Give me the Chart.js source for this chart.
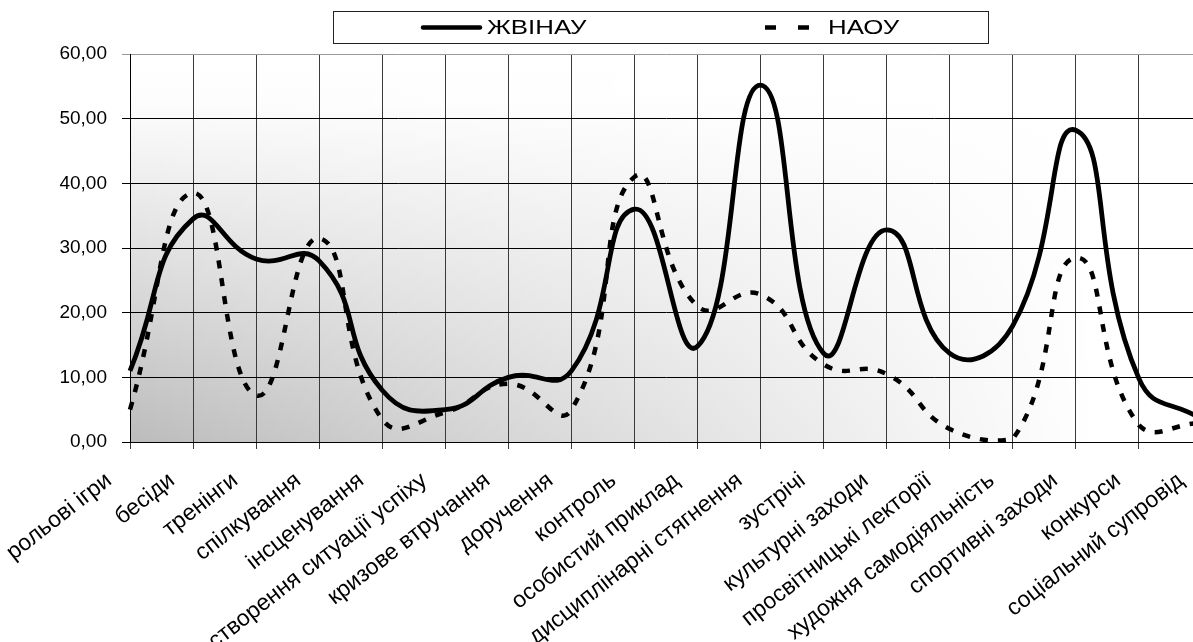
<!DOCTYPE html>
<html>
<head>
<meta charset="utf-8">
<script src="https://cdn.jsdelivr.net/npm/chart.js@4.4.1/dist/chart.umd.min.js"></script>
<style>
    html, body { margin: 0; padding: 0; background: #fff; overflow: hidden; width: 1193px; height: 642px; }
    #wrap { position: absolute; left: 0; top: 0; width: 1240px; height: 642px; }
</style>
</head>
<body>
<div id="wrap"><canvas id="ourChart"></canvas></div>
<script>
var categories = ["рольові ігри", "бесіди", "тренінги", "спілкування", "інсценування",
    "створення ситуації успіху", "кризове втручання", "доручення", "контроль",
    "особистий приклад", "дисциплінарні стягнення", "зустрічі", "культурні заходи",
    "просвітницькі лекторії", "художня самодіяльність", "спортивні заходи", "конкурси",
    "соціальний супровід"];
var zhvinau = [11, 34.5, 28.3, 28, 8, 5, 10, 11, 36, 14.8, 55.2, 13.7, 32.8, 13.7, 18, 48.2, 9.8, 3.5];
var naou = [5, 38.5, 7.2, 31.5, 3.5, 4.6, 9, 5, 41, 21, 22.8, 12, 10.5, 2, 0.5, 28.5, 2.6, 3];
var yTicks = [0, 10, 20, 30, 40, 50, 60];

var FONT = "Liberation Sans, Arial, sans-serif";

// gray gradient behind the plot, dark in the lower left corner
var plotBackground = {
    id: 'plotBackground',
    beforeDraw: function (chart) {
        var a = chart.chartArea, ctx = chart.ctx;
        ctx.save();
        var v = ctx.createLinearGradient(0, a.top, 0, a.bottom);
        v.addColorStop(0, '#ffffff');
        v.addColorStop(0.12, '#fdfdfd');
        v.addColorStop(1, '#bcbcbc');
        ctx.fillStyle = v;
        ctx.fillRect(a.left, a.top, a.right - a.left, a.bottom - a.top);
        var h = ctx.createLinearGradient(a.left, 0, a.right, 0);
        h.addColorStop(0, 'rgba(255,255,255,0)');
        h.addColorStop(0.9, 'rgba(255,255,255,1)');
        h.addColorStop(1, 'rgba(255,255,255,1)');
        ctx.fillStyle = h;
        ctx.fillRect(a.left, a.top, a.right - a.left, a.bottom - a.top);
        ctx.restore();
    }
};

// excel-like legend in a framed box
var boxLegend = {
    id: 'boxLegend',
    afterDraw: function (chart) {
        var ctx = chart.ctx;
        var sets = chart.data.datasets;
        ctx.save();
        ctx.fillStyle = '#fff';
        ctx.fillRect(333.5, 11.5, 655, 32);
        ctx.strokeStyle = '#222';
        ctx.lineWidth = 1;
        ctx.strokeRect(333.5, 11.5, 655, 32);
        var items = [
            {x: 423, w: 57, dash: [], cap: 'round', tx: 487},
            {x: 765, w: 44, dash: [11, 22], cap: 'butt', tx: 828}
        ];
        ctx.font = '21px ' + FONT;
        ctx.textBaseline = 'middle';
        for (var i = 0; i < sets.length; i++) {
            ctx.beginPath();
            ctx.lineWidth = 4.5;
            ctx.strokeStyle = '#000';
            ctx.setLineDash(items[i].dash);
            ctx.lineCap = items[i].cap;
            ctx.moveTo(items[i].x, 27.5);
            ctx.lineTo(items[i].x + items[i].w, 27.5);
            ctx.stroke();
            ctx.setLineDash([]);
            ctx.fillStyle = '#000';
            ctx.save();
            ctx.translate(items[i].tx, 28.5);
            ctx.scale(1.23, 1);
            ctx.fillText(sets[i].label, 0, 0);
            ctx.restore();
        }
        ctx.restore();
    }
};

new Chart(document.getElementById('ourChart'), {
    type: 'line',
    data: {
        labels: categories,
        datasets: [
            {
                label: 'ЖВІНАУ',
                data: zhvinau,
                borderColor: '#000',
                borderWidth: 4.8,
                tension: 0.5,
                pointRadius: 0,
                fill: false,
                clip: 12
            },
            {
                label: 'НАОУ',
                data: naou,
                borderColor: '#000',
                borderWidth: 4.5,
                borderDash: [8, 10],
                tension: 0.5,
                pointRadius: 0,
                fill: false,
                clip: 12
            }
        ]
    },
    options: {
        responsive: true,
        maintainAspectRatio: false,
        animation: false,
        layout: { padding: { top: 54, right: 38, left: 0, bottom: 0 } },
        plugins: {
            legend: { display: false },
            tooltip: { enabled: false }
        },
        scales: {
            x: {
                offset: false,
                grid: { color: '#3a3a3a', lineWidth: 1, tickLength: 7 },
                border: { color: '#000', width: 1 },
                ticks: {
                    autoSkip: false,
                    minRotation: 38,
                    maxRotation: 38,
                    color: '#000',
                    padding: 18,
                    labelOffset: -21,
                    font: { family: FONT, size: 23 }
                },
                afterFit: function (scale) { scale.height = 200; }
            },
            y: {
                min: 0,
                max: 60,
                afterBuildTicks: function (scale) {
                    scale.ticks = yTicks.map(function (v) { return { value: v }; });
                },
                grid: {
                    color: function (c) { return c.tick && c.tick.value === 60 ? '#9a9a9a' : '#000'; },
                    lineWidth: 1,
                    tickLength: 8
                },
                border: { color: '#000', width: 1 },
                ticks: {
                    color: '#000',
                    padding: 15,
                    font: { family: FONT, size: 19 },
                    callback: function (v) { return v.toFixed(2).replace('.', ','); }
                },
                afterFit: function (scale) { scale.width = 130; }
            }
        }
    },
    plugins: [plotBackground, boxLegend]
});
</script>
</body>
</html>
